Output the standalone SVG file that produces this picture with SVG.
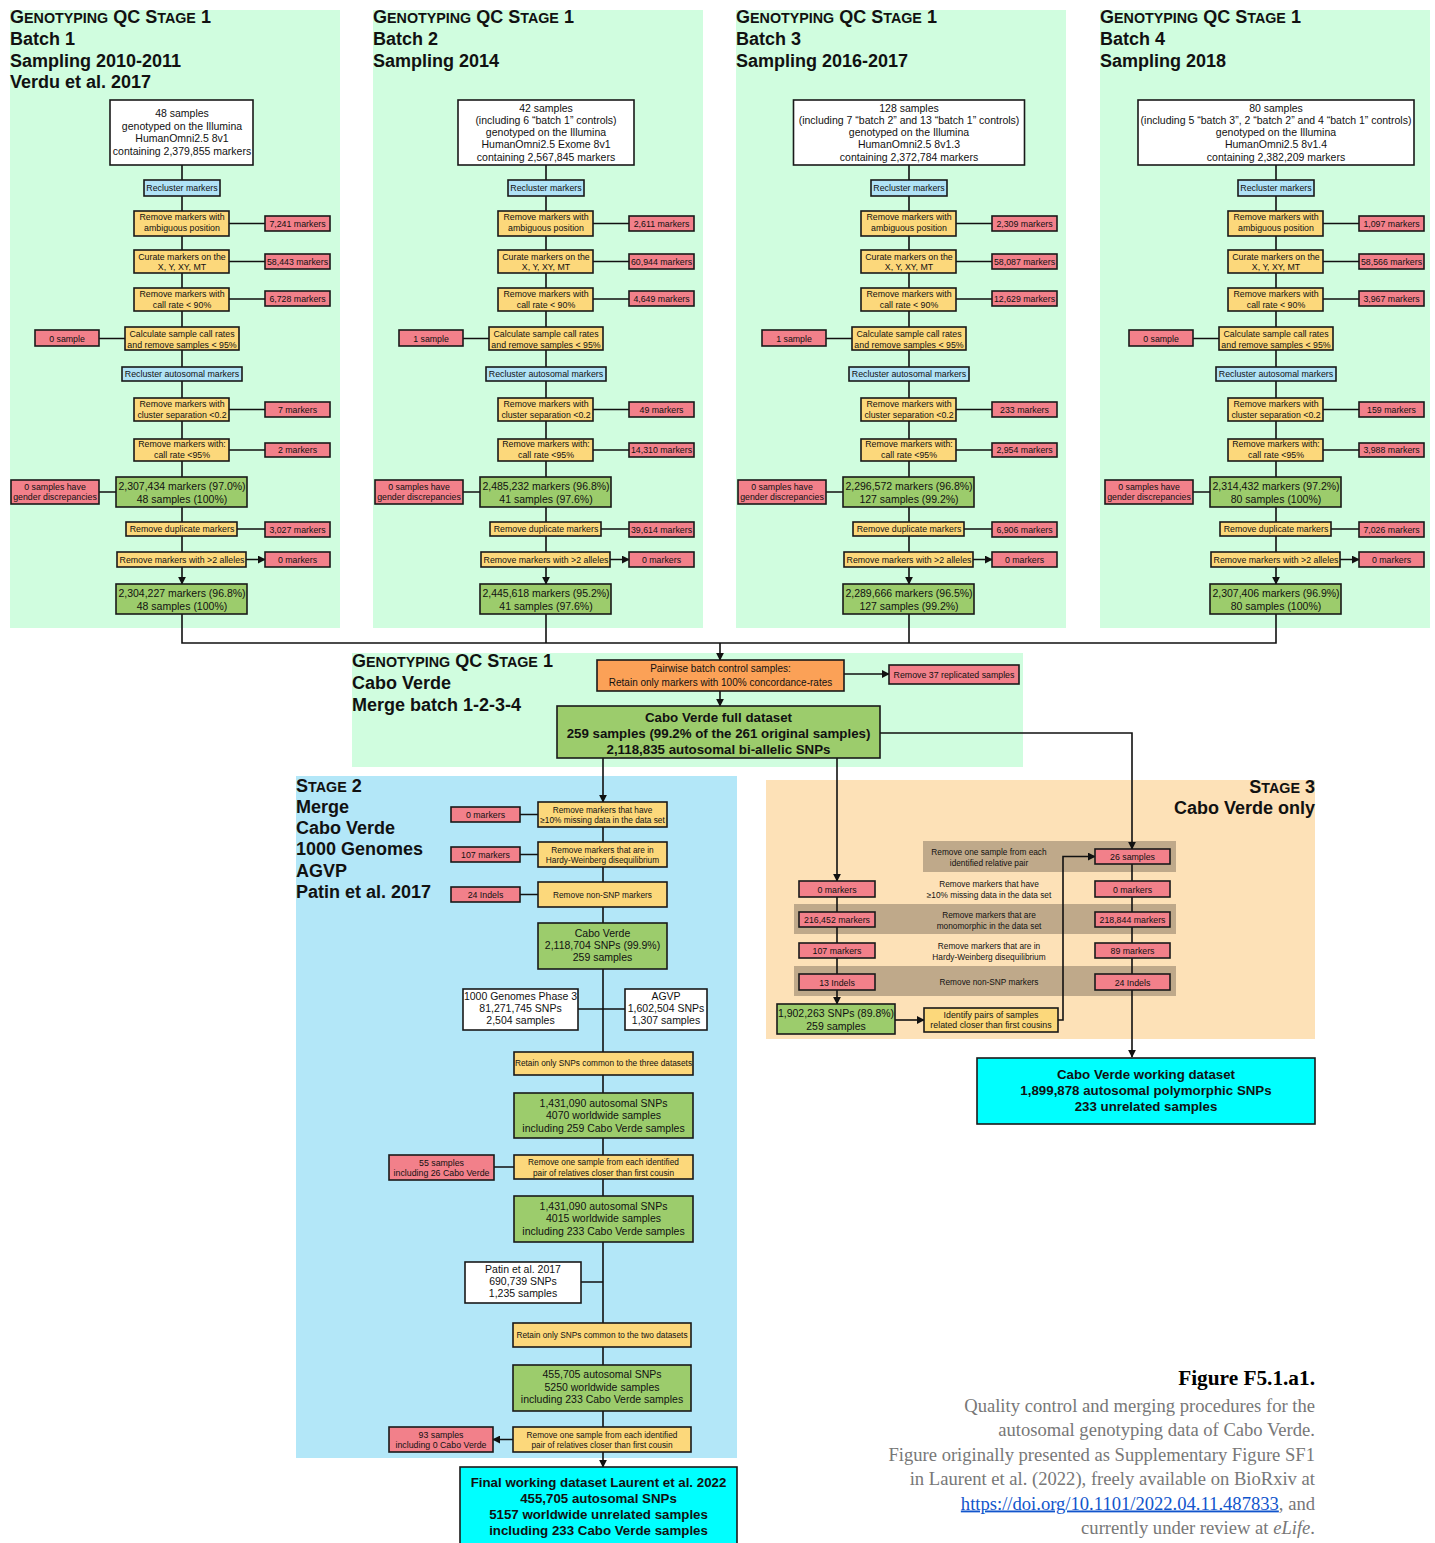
<svg xmlns="http://www.w3.org/2000/svg" width="1435" height="1543" viewBox="0 0 1435 1543">
<defs>
<style>
text{font-family:'Liberation Sans',Arial,Helvetica,sans-serif;fill:#111}
.c{text-anchor:middle}
.e{text-anchor:end}
.s88{font-size:8.8px}
.s83{font-size:8.3px}
.s10{font-size:10px}
.s105{font-size:10.5px}
.bd{font-weight:bold;font-size:13.3px}
.ttl{font-weight:bold;font-size:18px}
.sm{font-size:14.3px}
.box{stroke:#1a1a1a;stroke-width:1.6}
.wh{fill:#ffffff}
.bl{fill:#b0e2f6}
.ye{fill:#fcd87b}
.rd{fill:#f2808a}
.gr{fill:#9ccc6c}
.or{fill:#fba157}
.cy{fill:#00ffff}
.pg{fill:#d0fddf}
.pb{fill:#b3e7f8}
.pp{fill:#fde1b7}
.tan{fill:#bfa98a}
.cn{fill:none;stroke:#111;stroke-width:1.6}
.ar{marker-end:url(#ah)}
.cap{font-family:'Liberation Serif','Times New Roman',serif;font-size:18.6px;fill:#777;text-anchor:end}
</style>
<marker id="ah" viewBox="0 0 10 10" refX="9" refY="5" markerWidth="8" markerHeight="8" markerUnits="userSpaceOnUse" orient="auto"><path d="M0,0 L10,5 L0,10 z" fill="#111"/></marker>
</defs>
<rect width="1435" height="1543" fill="#ffffff"/>

<!-- panels -->
<g id="panels">
<rect class="pg" x="10" y="10" width="330" height="618"/>
<rect class="pg" x="373" y="10" width="330" height="618"/>
<rect class="pg" x="736" y="10" width="330" height="618"/>
<rect class="pg" x="1100" y="10" width="330" height="618"/>
<rect class="pg" x="352" y="653" width="671" height="114"/>
<rect class="pb" x="296" y="776" width="441" height="682"/>
<rect class="pp" x="766" y="780" width="549" height="259"/>
<rect class="tan" x="923" y="841" width="253" height="31"/>
<rect class="tan" x="794" y="904" width="382" height="30"/>
<rect class="tan" x="794" y="966" width="382" height="30"/>
</g>

<!-- titles -->
<g id="titles">
<text class="ttl" x="10" y="23">G<tspan class="sm">ENOTYPING</tspan> QC S<tspan class="sm">TAGE</tspan> 1<tspan x="10" y="45">Batch 1</tspan><tspan x="10" y="67">Sampling 2010-2011</tspan><tspan x="10" y="88">Verdu et al. 2017</tspan></text>
<text class="ttl" x="373" y="23">G<tspan class="sm">ENOTYPING</tspan> QC S<tspan class="sm">TAGE</tspan> 1<tspan x="373" y="45">Batch 2</tspan><tspan x="373" y="67">Sampling 2014</tspan></text>
<text class="ttl" x="736" y="23">G<tspan class="sm">ENOTYPING</tspan> QC S<tspan class="sm">TAGE</tspan> 1<tspan x="736" y="45">Batch 3</tspan><tspan x="736" y="67">Sampling 2016-2017</tspan></text>
<text class="ttl" x="1100" y="23">G<tspan class="sm">ENOTYPING</tspan> QC S<tspan class="sm">TAGE</tspan> 1<tspan x="1100" y="45">Batch 4</tspan><tspan x="1100" y="67">Sampling 2018</tspan></text>
<text class="ttl" x="352" y="667">G<tspan class="sm">ENOTYPING</tspan> QC S<tspan class="sm">TAGE</tspan> 1<tspan x="352" y="689">Cabo Verde</tspan><tspan x="352" y="711">Merge batch 1-2-3-4</tspan></text>
<text class="ttl" x="296" y="792">S<tspan class="sm">TAGE</tspan> 2<tspan x="296" y="813">Merge</tspan><tspan x="296" y="834">Cabo Verde</tspan><tspan x="296" y="855">1000 Genomes</tspan><tspan x="296" y="877">AGVP</tspan><tspan x="296" y="898">Patin et al. 2017</tspan></text>
<text class="ttl e" x="1315" y="793">S<tspan class="sm">TAGE</tspan> 3</text>
<text class="ttl e" x="1315" y="814">Cabo Verde only</text>
</g>

<!-- connectors -->
<g id="connectors">
<g id="conn-batch1"><path class="cn ar" d="M182,165V180M182,196V211M182,236V250M182,273V288M182,311V327M182,350V367M182,381V398M182,421V439M182,461V477M182,507V522M182,536V552M182,567V584"/><path class="cn ar" d="M229,223.5H265M229,261.5H265M229,299H265M125,338.5H99M229,409.5H265M229,450H265M116,492H99M237,529H265M246,559.5H265"/></g>
<g id="conn-batch2" transform="translate(364,0)"><path class="cn ar" d="M182,165V180M182,196V211M182,236V250M182,273V288M182,311V327M182,350V367M182,381V398M182,421V439M182,461V477M182,507V522M182,536V552M182,567V584"/><path class="cn ar" d="M229,223.5H265M229,261.5H265M229,299H265M125,338.5H99M229,409.5H265M229,450H265M116,492H99M237,529H265M246,559.5H265"/></g>
<g id="conn-batch3" transform="translate(727,0)"><path class="cn ar" d="M182,165V180M182,196V211M182,236V250M182,273V288M182,311V327M182,350V367M182,381V398M182,421V439M182,461V477M182,507V522M182,536V552M182,567V584"/><path class="cn ar" d="M229,223.5H265M229,261.5H265M229,299H265M125,338.5H99M229,409.5H265M229,450H265M116,492H99M237,529H265M246,559.5H265"/></g>
<g id="conn-batch4" transform="translate(1094,0)"><path class="cn ar" d="M182,165V180M182,196V211M182,236V250M182,273V288M182,311V327M182,350V367M182,381V398M182,421V439M182,461V477M182,507V522M182,536V552M182,567V584"/><path class="cn ar" d="M229,223.5H265M229,261.5H265M229,299H265M125,338.5H99M229,409.5H265M229,450H265M116,492H99M237,529H265M246,559.5H265"/></g>
<path class="cn" d="M182,614V643H1276V614M546,614V643M909,614V643"/>
<path class="cn ar" d="M720,643V660"/>
<path class="cn ar" d="M844,674H889"/>
<path class="cn ar" d="M720,691V706"/>
<path class="cn ar" d="M603,758V802"/>
<path class="cn ar" d="M837,758V881"/>
<path class="cn ar" d="M880,733H1132V849"/>
<!-- stage 2 -->
<path class="cn ar" d="M538,814.5H520M538,854.5H520M538,894.5H520M514,1167H494M513,1439.5H493"/>
<path class="cn ar" d="M603,827V842M603,867V882M603,907V923M603,969V1052M603,1075V1093M603,1138V1155M603,1179V1196M603,1242V1323M603,1347V1365M603,1411V1427M603,1452V1467"/>
<path class="cn" d="M578,1009H625M581,1282H603"/>
<!-- stage 3 -->
<path class="cn ar" d="M837,897V912M837,927V943M837,958V974M837,990V1004"/>
<path class="cn ar" d="M1132,864V881M1132,897V912M1132,927V943M1132,958V974M1132,990V1057"/>
<path class="cn ar" d="M895,1020H924"/>
<path class="cn ar" d="M1058,1020H1063V856.5H1095"/>
</g>

<!-- batch 1 nodes -->
<g id="batch1">
<g id="b1-start"><rect class="box wh" x="110" y="100" width="143" height="65"/><text class="c s105" x="182" y="117">48 samples<tspan x="182" y="129.5">genotyped on the Illumina</tspan><tspan x="182" y="142">HumanOmni2.5 8v1</tspan><tspan x="182" y="154.5">containing 2,379,855 markers</tspan></text></g>
<g id="b1-recluster"><rect class="box bl" x="144" y="180" width="76" height="16"/><text class="c s88" x="182" y="191">Recluster markers</text></g>
<g id="b1-ambig"><rect class="box ye" x="134" y="211" width="95" height="25"/><text class="c s88" x="182" y="220">Remove markers with<tspan x="182" y="231">ambiguous position</tspan></text></g>
<g id="b1-curate"><rect class="box ye" x="134" y="250" width="95" height="23"/><text class="c s88" x="182" y="260">Curate markers on the<tspan x="182" y="270">X, Y, XY, MT</tspan></text></g>
<g id="b1-cr90"><rect class="box ye" x="134" y="288" width="95" height="23"/><text class="c s88" x="182" y="297">Remove markers with<tspan x="182" y="307.5">call rate &lt; 90%</tspan></text></g>
<g id="b1-scr"><rect class="box ye" x="125" y="327" width="114" height="23"/><text class="c s88" x="182" y="337">Calculate sample call rates<tspan x="182" y="347.5">and remove samples &lt; 95%</tspan></text></g>
<g id="b1-recl-auto"><rect class="box bl" x="122" y="367" width="120" height="14"/><text class="c s88" x="182" y="377">Recluster autosomal markers</text></g>
<g id="b1-clsep"><rect class="box ye" x="134" y="398" width="95" height="23"/><text class="c s88" x="182" y="407">Remove markers with<tspan x="182" y="417.5">cluster separation &lt;0.2</tspan></text></g>
<g id="b1-cr95"><rect class="box ye" x="134" y="439" width="95" height="22"/><text class="c s88" x="182" y="447">Remove markers with:<tspan x="182" y="457.5">call rate &lt;95%</tspan></text></g>
<g id="b1-mid"><rect class="box gr" x="116" y="477" width="131" height="30"/><text class="c s105" x="182" y="490">2,307,434 markers (97.0%)<tspan x="182" y="502.5">48 samples (100%)</tspan></text></g>
<g id="b1-dup"><rect class="box ye" x="126" y="522" width="111" height="14"/><text class="c s88" x="182" y="532">Remove duplicate markers</text></g>
<g id="b1-alleles"><rect class="box ye" x="117" y="552" width="129" height="15"/><text class="c s88" x="182" y="563">Remove markers with &gt;2 alleles</text></g>
<g id="b1-end"><rect class="box gr" x="116" y="584" width="131" height="30"/><text class="c s105" x="182" y="597">2,304,227 markers (96.8%)<tspan x="182" y="609.5">48 samples (100%)</tspan></text></g>
<g id="b1-r1"><rect class="box rd" x="265" y="216" width="65" height="15"/><text class="c s88" x="297.5" y="226.5">7,241 markers</text></g>
<g id="b1-r2"><rect class="box rd" x="265" y="254" width="65" height="15"/><text class="c s88" x="297.5" y="264.5">58,443 markers</text></g>
<g id="b1-r3"><rect class="box rd" x="265" y="291" width="65" height="15"/><text class="c s88" x="297.5" y="301.5">6,728 markers</text></g>
<g id="b1-r4"><rect class="box rd" x="35" y="330" width="64" height="16"/><text class="c s88" x="67" y="341.5">0 sample</text></g>
<g id="b1-r5"><rect class="box rd" x="265" y="402" width="65" height="15"/><text class="c s88" x="297.5" y="412.5">7 markers</text></g>
<g id="b1-r6"><rect class="box rd" x="265" y="443" width="65" height="14"/><text class="c s88" x="297.5" y="453">2 markers</text></g>
<g id="b1-r7"><rect class="box rd" x="11" y="480" width="88" height="24"/><text class="c s88" x="55" y="489.5">0 samples have<tspan x="55" y="500">gender discrepancies</tspan></text></g>
<g id="b1-r8"><rect class="box rd" x="265" y="522" width="65" height="15"/><text class="c s88" x="297.5" y="532.5">3,027 markers</text></g>
<g id="b1-r9"><rect class="box rd" x="265" y="552" width="65" height="15"/><text class="c s88" x="297.5" y="562.5">0 markers</text></g>
</g>

<!-- batch 2 nodes -->
<g id="batch2" transform="translate(364,0)">
<g id="b2-start"><rect class="box wh" x="94" y="100" width="176" height="65"/><text class="c s105" x="182" y="111.5">42 samples<tspan x="182" y="123.8">(including 6 “batch 1” controls)</tspan><tspan x="182" y="136.1">genotyped on the Illumina</tspan><tspan x="182" y="148.4">HumanOmni2.5 Exome 8v1</tspan><tspan x="182" y="160.7">containing 2,567,845 markers</tspan></text></g>
<g id="b2-recluster"><rect class="box bl" x="144" y="180" width="76" height="16"/><text class="c s88" x="182" y="191">Recluster markers</text></g>
<g id="b2-ambig"><rect class="box ye" x="134" y="211" width="95" height="25"/><text class="c s88" x="182" y="220">Remove markers with<tspan x="182" y="231">ambiguous position</tspan></text></g>
<g id="b2-curate"><rect class="box ye" x="134" y="250" width="95" height="23"/><text class="c s88" x="182" y="260">Curate markers on the<tspan x="182" y="270">X, Y, XY, MT</tspan></text></g>
<g id="b2-cr90"><rect class="box ye" x="134" y="288" width="95" height="23"/><text class="c s88" x="182" y="297">Remove markers with<tspan x="182" y="307.5">call rate &lt; 90%</tspan></text></g>
<g id="b2-scr"><rect class="box ye" x="125" y="327" width="114" height="23"/><text class="c s88" x="182" y="337">Calculate sample call rates<tspan x="182" y="347.5">and remove samples &lt; 95%</tspan></text></g>
<g id="b2-recl-auto"><rect class="box bl" x="122" y="367" width="120" height="14"/><text class="c s88" x="182" y="377">Recluster autosomal markers</text></g>
<g id="b2-clsep"><rect class="box ye" x="134" y="398" width="95" height="23"/><text class="c s88" x="182" y="407">Remove markers with<tspan x="182" y="417.5">cluster separation &lt;0.2</tspan></text></g>
<g id="b2-cr95"><rect class="box ye" x="134" y="439" width="95" height="22"/><text class="c s88" x="182" y="447">Remove markers with:<tspan x="182" y="457.5">call rate &lt;95%</tspan></text></g>
<g id="b2-mid"><rect class="box gr" x="116" y="477" width="131" height="30"/><text class="c s105" x="182" y="490">2,485,232 markers (96.8%)<tspan x="182" y="502.5">41 samples (97.6%)</tspan></text></g>
<g id="b2-dup"><rect class="box ye" x="126" y="522" width="111" height="14"/><text class="c s88" x="182" y="532">Remove duplicate markers</text></g>
<g id="b2-alleles"><rect class="box ye" x="117" y="552" width="129" height="15"/><text class="c s88" x="182" y="563">Remove markers with &gt;2 alleles</text></g>
<g id="b2-end"><rect class="box gr" x="116" y="584" width="131" height="30"/><text class="c s105" x="182" y="597">2,445,618 markers (95.2%)<tspan x="182" y="609.5">41 samples (97.6%)</tspan></text></g>
<g id="b2-r1"><rect class="box rd" x="265" y="216" width="65" height="15"/><text class="c s88" x="297.5" y="226.5">2,611 markers</text></g>
<g id="b2-r2"><rect class="box rd" x="265" y="254" width="65" height="15"/><text class="c s88" x="297.5" y="264.5">60,944 markers</text></g>
<g id="b2-r3"><rect class="box rd" x="265" y="291" width="65" height="15"/><text class="c s88" x="297.5" y="301.5">4,649 markers</text></g>
<g id="b2-r4"><rect class="box rd" x="35" y="330" width="64" height="16"/><text class="c s88" x="67" y="341.5">1 sample</text></g>
<g id="b2-r5"><rect class="box rd" x="265" y="402" width="65" height="15"/><text class="c s88" x="297.5" y="412.5">49 markers</text></g>
<g id="b2-r6"><rect class="box rd" x="265" y="443" width="65" height="14"/><text class="c s88" x="297.5" y="453">14,310 markers</text></g>
<g id="b2-r7"><rect class="box rd" x="11" y="480" width="88" height="24"/><text class="c s88" x="55" y="489.5">0 samples have<tspan x="55" y="500">gender discrepancies</tspan></text></g>
<g id="b2-r8"><rect class="box rd" x="265" y="522" width="65" height="15"/><text class="c s88" x="297.5" y="532.5">39,614 markers</text></g>
<g id="b2-r9"><rect class="box rd" x="265" y="552" width="65" height="15"/><text class="c s88" x="297.5" y="562.5">0 markers</text></g>
</g>

<!-- batch 3 nodes -->
<g id="batch3" transform="translate(727,0)">
<g id="b3-start"><rect class="box wh" x="66.5" y="100" width="231" height="65"/><text class="c s105" x="182" y="111.5">128 samples<tspan x="182" y="123.8">(including 7 “batch 2” and 13 “batch 1” controls)</tspan><tspan x="182" y="136.1">genotyped on the Illumina</tspan><tspan x="182" y="148.4">HumanOmni2.5 8v1.3</tspan><tspan x="182" y="160.7">containing 2,372,784 markers</tspan></text></g>
<g id="b3-recluster"><rect class="box bl" x="144" y="180" width="76" height="16"/><text class="c s88" x="182" y="191">Recluster markers</text></g>
<g id="b3-ambig"><rect class="box ye" x="134" y="211" width="95" height="25"/><text class="c s88" x="182" y="220">Remove markers with<tspan x="182" y="231">ambiguous position</tspan></text></g>
<g id="b3-curate"><rect class="box ye" x="134" y="250" width="95" height="23"/><text class="c s88" x="182" y="260">Curate markers on the<tspan x="182" y="270">X, Y, XY, MT</tspan></text></g>
<g id="b3-cr90"><rect class="box ye" x="134" y="288" width="95" height="23"/><text class="c s88" x="182" y="297">Remove markers with<tspan x="182" y="307.5">call rate &lt; 90%</tspan></text></g>
<g id="b3-scr"><rect class="box ye" x="125" y="327" width="114" height="23"/><text class="c s88" x="182" y="337">Calculate sample call rates<tspan x="182" y="347.5">and remove samples &lt; 95%</tspan></text></g>
<g id="b3-recl-auto"><rect class="box bl" x="122" y="367" width="120" height="14"/><text class="c s88" x="182" y="377">Recluster autosomal markers</text></g>
<g id="b3-clsep"><rect class="box ye" x="134" y="398" width="95" height="23"/><text class="c s88" x="182" y="407">Remove markers with<tspan x="182" y="417.5">cluster separation &lt;0.2</tspan></text></g>
<g id="b3-cr95"><rect class="box ye" x="134" y="439" width="95" height="22"/><text class="c s88" x="182" y="447">Remove markers with:<tspan x="182" y="457.5">call rate &lt;95%</tspan></text></g>
<g id="b3-mid"><rect class="box gr" x="116" y="477" width="131" height="30"/><text class="c s105" x="182" y="490">2,296,572 markers (96.8%)<tspan x="182" y="502.5">127 samples (99.2%)</tspan></text></g>
<g id="b3-dup"><rect class="box ye" x="126" y="522" width="111" height="14"/><text class="c s88" x="182" y="532">Remove duplicate markers</text></g>
<g id="b3-alleles"><rect class="box ye" x="117" y="552" width="129" height="15"/><text class="c s88" x="182" y="563">Remove markers with &gt;2 alleles</text></g>
<g id="b3-end"><rect class="box gr" x="116" y="584" width="131" height="30"/><text class="c s105" x="182" y="597">2,289,666 markers (96.5%)<tspan x="182" y="609.5">127 samples (99.2%)</tspan></text></g>
<g id="b3-r1"><rect class="box rd" x="265" y="216" width="65" height="15"/><text class="c s88" x="297.5" y="226.5">2,309 markers</text></g>
<g id="b3-r2"><rect class="box rd" x="265" y="254" width="65" height="15"/><text class="c s88" x="297.5" y="264.5">58,087 markers</text></g>
<g id="b3-r3"><rect class="box rd" x="265" y="291" width="65" height="15"/><text class="c s88" x="297.5" y="301.5">12,629 markers</text></g>
<g id="b3-r4"><rect class="box rd" x="35" y="330" width="64" height="16"/><text class="c s88" x="67" y="341.5">1 sample</text></g>
<g id="b3-r5"><rect class="box rd" x="265" y="402" width="65" height="15"/><text class="c s88" x="297.5" y="412.5">233 markers</text></g>
<g id="b3-r6"><rect class="box rd" x="265" y="443" width="65" height="14"/><text class="c s88" x="297.5" y="453">2,954 markers</text></g>
<g id="b3-r7"><rect class="box rd" x="11" y="480" width="88" height="24"/><text class="c s88" x="55" y="489.5">0 samples have<tspan x="55" y="500">gender discrepancies</tspan></text></g>
<g id="b3-r8"><rect class="box rd" x="265" y="522" width="65" height="15"/><text class="c s88" x="297.5" y="532.5">6,906 markers</text></g>
<g id="b3-r9"><rect class="box rd" x="265" y="552" width="65" height="15"/><text class="c s88" x="297.5" y="562.5">0 markers</text></g>
</g>

<!-- batch 4 nodes -->
<g id="batch4" transform="translate(1094,0)">
<g id="b4-start"><rect class="box wh" x="44" y="100" width="276" height="65"/><text class="c s105" x="182" y="111.5">80 samples<tspan x="182" y="123.8">(including 5 “batch 3”, 2 “batch 2” and 4 “batch 1” controls)</tspan><tspan x="182" y="136.1">genotyped on the Illumina</tspan><tspan x="182" y="148.4">HumanOmni2.5 8v1.4</tspan><tspan x="182" y="160.7">containing 2,382,209 markers</tspan></text></g>
<g id="b4-recluster"><rect class="box bl" x="144" y="180" width="76" height="16"/><text class="c s88" x="182" y="191">Recluster markers</text></g>
<g id="b4-ambig"><rect class="box ye" x="134" y="211" width="95" height="25"/><text class="c s88" x="182" y="220">Remove markers with<tspan x="182" y="231">ambiguous position</tspan></text></g>
<g id="b4-curate"><rect class="box ye" x="134" y="250" width="95" height="23"/><text class="c s88" x="182" y="260">Curate markers on the<tspan x="182" y="270">X, Y, XY, MT</tspan></text></g>
<g id="b4-cr90"><rect class="box ye" x="134" y="288" width="95" height="23"/><text class="c s88" x="182" y="297">Remove markers with<tspan x="182" y="307.5">call rate &lt; 90%</tspan></text></g>
<g id="b4-scr"><rect class="box ye" x="125" y="327" width="114" height="23"/><text class="c s88" x="182" y="337">Calculate sample call rates<tspan x="182" y="347.5">and remove samples &lt; 95%</tspan></text></g>
<g id="b4-recl-auto"><rect class="box bl" x="122" y="367" width="120" height="14"/><text class="c s88" x="182" y="377">Recluster autosomal markers</text></g>
<g id="b4-clsep"><rect class="box ye" x="134" y="398" width="95" height="23"/><text class="c s88" x="182" y="407">Remove markers with<tspan x="182" y="417.5">cluster separation &lt;0.2</tspan></text></g>
<g id="b4-cr95"><rect class="box ye" x="134" y="439" width="95" height="22"/><text class="c s88" x="182" y="447">Remove markers with:<tspan x="182" y="457.5">call rate &lt;95%</tspan></text></g>
<g id="b4-mid"><rect class="box gr" x="116" y="477" width="131" height="30"/><text class="c s105" x="182" y="490">2,314,432 markers (97.2%)<tspan x="182" y="502.5">80 samples (100%)</tspan></text></g>
<g id="b4-dup"><rect class="box ye" x="126" y="522" width="111" height="14"/><text class="c s88" x="182" y="532">Remove duplicate markers</text></g>
<g id="b4-alleles"><rect class="box ye" x="117" y="552" width="129" height="15"/><text class="c s88" x="182" y="563">Remove markers with &gt;2 alleles</text></g>
<g id="b4-end"><rect class="box gr" x="116" y="584" width="131" height="30"/><text class="c s105" x="182" y="597">2,307,406 markers (96.9%)<tspan x="182" y="609.5">80 samples (100%)</tspan></text></g>
<g id="b4-r1"><rect class="box rd" x="265" y="216" width="65" height="15"/><text class="c s88" x="297.5" y="226.5">1,097 markers</text></g>
<g id="b4-r2"><rect class="box rd" x="265" y="254" width="65" height="15"/><text class="c s88" x="297.5" y="264.5">58,566 markers</text></g>
<g id="b4-r3"><rect class="box rd" x="265" y="291" width="65" height="15"/><text class="c s88" x="297.5" y="301.5">3,967 markers</text></g>
<g id="b4-r4"><rect class="box rd" x="35" y="330" width="64" height="16"/><text class="c s88" x="67" y="341.5">0 sample</text></g>
<g id="b4-r5"><rect class="box rd" x="265" y="402" width="65" height="15"/><text class="c s88" x="297.5" y="412.5">159 markers</text></g>
<g id="b4-r6"><rect class="box rd" x="265" y="443" width="65" height="14"/><text class="c s88" x="297.5" y="453">3,988 markers</text></g>
<g id="b4-r7"><rect class="box rd" x="11" y="480" width="88" height="24"/><text class="c s88" x="55" y="489.5">0 samples have<tspan x="55" y="500">gender discrepancies</tspan></text></g>
<g id="b4-r8"><rect class="box rd" x="265" y="522" width="65" height="15"/><text class="c s88" x="297.5" y="532.5">7,026 markers</text></g>
<g id="b4-r9"><rect class="box rd" x="265" y="552" width="65" height="15"/><text class="c s88" x="297.5" y="562.5">0 markers</text></g>
</g>

<!-- merge -->
<g id="m-pairwise"><rect class="box or" x="597" y="660" width="247" height="31"/><text class="c s10" x="720.5" y="671.5">Pairwise batch control samples:<tspan x="720.5" y="685.5">Retain only markers with 100% concordance-rates</tspan></text></g>
<g id="m-remove37"><rect class="box rd" x="889" y="665" width="130" height="19"/><text class="c s88" x="954" y="677.5">Remove 37 replicated samples</text></g>
<g id="m-full"><rect class="box gr" x="557" y="706" width="323" height="52"/><text class="c bd" x="718.5" y="722">Cabo Verde full dataset<tspan x="718.5" y="738">259 samples (99.2% of the 261 original samples)</tspan><tspan x="718.5" y="754">2,118,835 autosomal bi-allelic SNPs</tspan></text></g>

<!-- stage 2 -->
<g id="s2-missing"><rect class="box ye" x="538" y="802" width="129" height="25"/><text class="c s83" x="602.5" y="812.5">Remove markers that have<tspan x="602.5" y="823">≥10% missing data in the data set</tspan></text></g>
<g id="s2-r-missing"><rect class="box rd" x="451" y="807" width="69" height="15"/><text class="c s88" x="485.5" y="817.5">0 markers</text></g>
<g id="s2-hwe"><rect class="box ye" x="538" y="842" width="129" height="25"/><text class="c s83" x="602.5" y="852.5">Remove markers that are in<tspan x="602.5" y="863">Hardy-Weinberg disequilibrium</tspan></text></g>
<g id="s2-r-hwe"><rect class="box rd" x="451" y="847" width="69" height="15"/><text class="c s88" x="485.5" y="857.5">107 markers</text></g>
<g id="s2-nonsnp"><rect class="box ye" x="538" y="882" width="129" height="25"/><text class="c s83" x="602.5" y="897.5">Remove non-SNP markers</text></g>
<g id="s2-r-nonsnp"><rect class="box rd" x="451" y="887" width="69" height="15"/><text class="c s88" x="485.5" y="897.5">24 Indels</text></g>
<g id="s2-cv"><rect class="box gr" x="538" y="923" width="129" height="46"/><text class="c s105" x="602.5" y="936.5">Cabo Verde<tspan x="602.5" y="948.5">2,118,704 SNPs (99.9%)</tspan><tspan x="602.5" y="960.5">259 samples</tspan></text></g>
<g id="s2-1000g"><rect class="box wh" x="463" y="989" width="115" height="41"/><text class="c s105" x="520.5" y="999.5">1000 Genomes Phase 3<tspan x="520.5" y="1011.5">81,271,745 SNPs</tspan><tspan x="520.5" y="1024">2,504 samples</tspan></text></g>
<g id="s2-agvp"><rect class="box wh" x="625" y="989" width="82" height="41"/><text class="c s105" x="666" y="999.5">AGVP<tspan x="666" y="1011.5">1,602,504 SNPs</tspan><tspan x="666" y="1024">1,307 samples</tspan></text></g>
<g id="s2-common3"><rect class="box ye" x="514" y="1052" width="179" height="23"/><text class="c s83" x="603.5" y="1066">Retain only SNPs common to the three datasets</text></g>
<g id="s2-g1"><rect class="box gr" x="514" y="1093" width="179" height="45"/><text class="c s105" x="603.5" y="1106.5">1,431,090 autosomal SNPs<tspan x="603.5" y="1119">4070 worldwide samples</tspan><tspan x="603.5" y="1131.5">including 259 Cabo Verde samples</tspan></text></g>
<g id="s2-rel1"><rect class="box ye" x="514" y="1155" width="179" height="24"/><text class="c s83" x="603.5" y="1165">Remove one sample from each identified<tspan x="603.5" y="1175.5">pair of relatives closer than first cousin</tspan></text></g>
<g id="s2-r-rel1"><rect class="box rd" x="389" y="1155" width="105" height="25"/><text class="c s88" x="441.5" y="1165.5">55 samples<tspan x="441.5" y="1176">including 26 Cabo Verde</tspan></text></g>
<g id="s2-g2"><rect class="box gr" x="514" y="1196" width="179" height="46"/><text class="c s105" x="603.5" y="1209.5">1,431,090 autosomal SNPs<tspan x="603.5" y="1222">4015 worldwide samples</tspan><tspan x="603.5" y="1234.5">including 233 Cabo Verde samples</tspan></text></g>
<g id="s2-patin"><rect class="box wh" x="465" y="1262" width="116" height="41"/><text class="c s105" x="523" y="1272.5">Patin et al. 2017<tspan x="523" y="1284.5">690,739 SNPs</tspan><tspan x="523" y="1297">1,235 samples</tspan></text></g>
<g id="s2-common2"><rect class="box ye" x="513" y="1323" width="178" height="24"/><text class="c s83" x="602" y="1338">Retain only SNPs common to the two datasets</text></g>
<g id="s2-g3"><rect class="box gr" x="513" y="1365" width="178" height="46"/><text class="c s105" x="602" y="1378">455,705 autosomal SNPs<tspan x="602" y="1390.5">5250 worldwide samples</tspan><tspan x="602" y="1403">including 233 Cabo Verde samples</tspan></text></g>
<g id="s2-rel2"><rect class="box ye" x="513" y="1427" width="178" height="25"/><text class="c s83" x="602" y="1437.5">Remove one sample from each identified<tspan x="602" y="1448">pair of relatives closer than first cousin</tspan></text></g>
<g id="s2-r-rel2"><rect class="box rd" x="389" y="1427" width="104" height="25"/><text class="c s88" x="441" y="1437.5">93 samples<tspan x="441" y="1448">including 0 Cabo Verde</tspan></text></g>
<g id="s2-final"><rect class="box cy" x="460" y="1467" width="277" height="90"/><text class="c bd" x="598.5" y="1486.5">Final working dataset Laurent et al. 2022<tspan x="598.5" y="1502.5">455,705 autosomal SNPs</tspan><tspan x="598.5" y="1518.5">5157 worldwide unrelated samples</tspan><tspan x="598.5" y="1534.5">including 233 Cabo Verde samples</tspan></text></g>

<!-- stage 3 -->
<g id="s3-labels">
<text class="c s83" x="989" y="855">Remove one sample from each<tspan x="989" y="865.5">identified relative pair</tspan></text>
<text class="c s83" x="989" y="887">Remove markers that have<tspan x="989" y="897.5">≥10% missing data in the data set</tspan></text>
<text class="c s83" x="989" y="918">Remove markers that are<tspan x="989" y="928.5">monomorphic in the data set</tspan></text>
<text class="c s83" x="989" y="949">Remove markers that are in<tspan x="989" y="959.5">Hardy-Weinberg disequilibrium</tspan></text>
<text class="c s83" x="989" y="984.5">Remove non-SNP markers</text>
</g>
<g id="s3-l-missing"><rect class="box rd" x="799" y="881" width="76" height="16"/><text class="c s88" x="837" y="892.5">0 markers</text></g>
<g id="s3-l-mono"><rect class="box rd" x="799" y="912" width="76" height="15"/><text class="c s88" x="837" y="922.5">216,452 markers</text></g>
<g id="s3-l-hwe"><rect class="box rd" x="799" y="943" width="76" height="15"/><text class="c s88" x="837" y="953.5">107 markers</text></g>
<g id="s3-l-nonsnp"><rect class="box rd" x="799" y="974" width="76" height="16"/><text class="c s88" x="837" y="985.5">13 Indels</text></g>
<g id="s3-green"><rect class="box gr" x="777" y="1004" width="118" height="30"/><text class="c s105" x="836" y="1017">1,902,263 SNPs (89.8%)<tspan x="836" y="1029.5">259 samples</tspan></text></g>
<g id="s3-identify"><rect class="box ye" x="924" y="1008" width="134" height="24"/><text class="c s88" x="991" y="1017.5">Identify pairs of samples<tspan x="991" y="1028">related closer than first cousins</tspan></text></g>
<g id="s3-r-rel"><rect class="box rd" x="1095" y="849" width="75" height="15"/><text class="c s88" x="1132.5" y="859.5">26 samples</text></g>
<g id="s3-r-missing"><rect class="box rd" x="1095" y="881" width="75" height="16"/><text class="c s88" x="1132.5" y="892.5">0 markers</text></g>
<g id="s3-r-mono"><rect class="box rd" x="1095" y="912" width="75" height="15"/><text class="c s88" x="1132.5" y="922.5">218,844 markers</text></g>
<g id="s3-r-hwe"><rect class="box rd" x="1095" y="943" width="75" height="15"/><text class="c s88" x="1132.5" y="953.5">89 markers</text></g>
<g id="s3-r-nonsnp"><rect class="box rd" x="1095" y="974" width="75" height="16"/><text class="c s88" x="1132.5" y="985.5">24 Indels</text></g>
<g id="s3-final"><rect class="box cy" x="977" y="1058" width="338" height="66"/><text class="c bd" x="1146" y="1078.5">Cabo Verde working dataset<tspan x="1146" y="1094.5">1,899,878 autosomal polymorphic SNPs</tspan><tspan x="1146" y="1110.5">233 unrelated samples</tspan></text></g>

<!-- caption -->
<g id="caption">
<text x="1315" y="1385" style="font-family:'Liberation Serif','Times New Roman',serif;font-weight:bold;font-size:21.3px;fill:#000;text-anchor:end">Figure F5.1.a1.</text>
<text class="cap" x="1315" y="1411.5">Quality control and merging procedures for the</text>
<text class="cap" x="1315" y="1436">autosomal genotyping data of Cabo Verde.</text>
<text class="cap" x="1315" y="1460.5">Figure originally presented as Supplementary Figure SF1</text>
<text class="cap" x="1315" y="1485">in Laurent et al. (2022), freely available on BioRxiv at</text>
<text class="cap" x="1315" y="1509.5"><tspan fill="#1155cc" text-decoration="underline">https://doi.org/10.1101/2022.04.11.487833</tspan>, and</text>
<text class="cap" x="1315" y="1534">currently under review at <tspan font-style="italic">eLife</tspan>.</text>
</g>
</svg>
